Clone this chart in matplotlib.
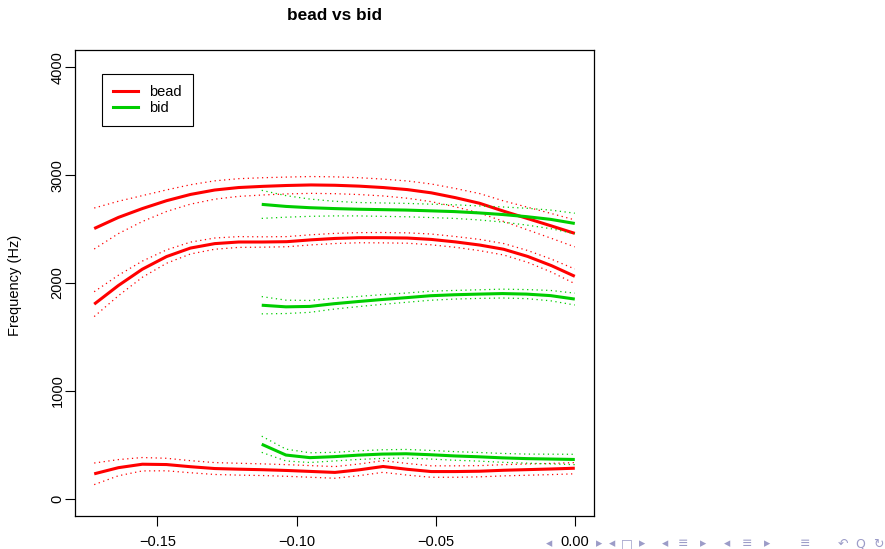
import matplotlib
matplotlib.use("Agg")
import matplotlib.pyplot as plt
from matplotlib.lines import Line2D

plt.rcParams['font.family'] = ['Liberation Sans', 'DejaVu Sans']

RED = '#FF0000'
GREEN = '#00CD00'

# time (s) relative to the vowel end, formant means (Hz) and band half-widths (Hz)
bead_time = [-0.1727, -0.1640, -0.1554, -0.1467, -0.1381, -0.1294, -0.1208,
             -0.1121, -0.1035, -0.0948, -0.0862, -0.0775, -0.0689, -0.0602,
             -0.0516, -0.0429, -0.0342, -0.0256, -0.0169, -0.0083, 0.0]
bead_f1 = [231, 288, 320, 317, 297, 280, 274, 269, 262, 253, 244,
           268, 299, 273, 252, 252, 255, 264, 270, 276, 283]
bead_f2 = [1804, 1977, 2128, 2245, 2324, 2365, 2380, 2380, 2383, 2400, 2413,
           2420, 2420, 2417, 2404, 2381, 2352, 2313, 2246, 2160, 2062]
bead_f3 = [2505, 2608, 2690, 2763, 2821, 2862, 2885, 2896, 2904, 2909, 2906,
           2898, 2885, 2866, 2836, 2791, 2739, 2666, 2597, 2528, 2460]
bead_f1_se = [100, 75, 62, 58, 56, 55, 55, 54, 54, 54, 54,
              54, 54, 54, 53, 53, 52, 52, 52, 52, 52]
bead_f2_se = [115, 95, 75, 62, 55, 52, 50, 48, 47, 47, 47,
              47, 48, 48, 50, 50, 52, 53, 55, 60, 68]
bead_f3_se = [190, 150, 120, 100, 90, 85, 82, 80, 78, 78, 78,
              78, 78, 80, 82, 85, 90, 95, 105, 115, 125]

bid_time = [-0.1125, -0.1038, -0.0952, -0.0865, -0.0779, -0.0692, -0.0606,
            -0.0519, -0.0433, -0.0346, -0.0260, -0.0173, -0.0087, 0.0]
bid_f1 = [505, 405, 381, 390, 404, 414, 417, 408, 397, 389, 379, 372, 368, 364]
bid_f2 = [1794, 1779, 1783, 1808, 1828, 1847, 1864, 1882, 1891, 1897, 1902,
          1897, 1883, 1851]
bid_f3 = [2729, 2710, 2698, 2690, 2684, 2680, 2676, 2669, 2662, 2650, 2635,
          2615, 2590, 2552]
bid_f1_se = [75, 55, 45, 40, 40, 40, 40, 40, 40, 40, 41, 42, 45, 48]
bid_f2_se = [80, 62, 55, 50, 47, 45, 43, 42, 40, 40, 41, 42, 48, 55]
bid_f3_se = [130, 100, 80, 68, 62, 62, 62, 62, 63, 65, 70, 78, 86, 95]

x_ticks = [-0.15, -0.10, -0.05, 0.00]
y_ticks = [0, 1000, 2000, 3000, 4000]

vowels = [
    ('bead', RED, bead_time, [(bead_f1, bead_f1_se), (bead_f2, bead_f2_se), (bead_f3, bead_f3_se)]),
    ('bid', GREEN, bid_time, [(bid_f1, bid_f1_se), (bid_f2, bid_f2_se), (bid_f3, bid_f3_se)]),
]

W, H = 885, 549
fig = plt.figure(figsize=(W / 100, H / 100), dpi=100)
ax = fig.add_axes([75 / W, 1 - 516 / H, (594 - 75) / W, (516 - 50) / H])

dots = (0, (1, 2.8))
for name, col, t, formants in vowels:
    for mean, se in formants:
        lo = [m - s for m, s in zip(mean, se)]
        hi = [m + s for m, s in zip(mean, se)]
        ax.plot(t, hi, color=col, lw=0.9, linestyle=dots)
        ax.plot(t, lo, color=col, lw=0.9, linestyle=dots)
        ax.plot(t, mean, color=col, lw=2.2, solid_capstyle='butt')

ax.set_xlim(-0.1796, 0.0069)
ax.set_ylim(-160, 4160)
ax.set_xticks(x_ticks)
ax.set_xticklabels(['\u22120.15', '\u22120.10', '\u22120.05', '0.00'])
ax.set_yticks(y_ticks)
ax.set_yticklabels([str(v) for v in y_ticks])
ax.tick_params(axis='both', direction='out', length=7, width=0.8,
               labelsize=10.5, color='black')
ax.tick_params(axis='x', pad=7)
ax.tick_params(axis='y', pad=0.5, labelrotation=90)
for lab in ax.get_yticklabels():
    lab.set_va('center')
for sp in ax.spines.values():
    sp.set_linewidth(0.9)
    sp.set_color('black')

fig.text(334.5 / W, 1 - 16 / H, 'bead vs bid', ha='center', va='center',
         fontsize=12.4, fontweight='bold')
fig.text(15 / W, 1 - 285 / H, 'Frequency (Hz)', rotation=90,
         ha='center', va='center', fontsize=10.5)

handles = [Line2D([], [], color=RED, lw=2.2), Line2D([], [], color=GREEN, lw=2.2)]
leg = fig.legend(handles, ['bead', 'bid'], loc='upper left',
                 bbox_to_anchor=(102 / W, 1 - 74 / H), bbox_transform=fig.transFigure,
                 borderaxespad=0, fancybox=False, edgecolor='black', framealpha=1,
                 fontsize=10.5, handlelength=1.75, handletextpad=0.75,
                 labelspacing=0.15, borderpad=0.75)
leg.get_frame().set_linewidth(0.8)

# beamer navigation symbols along the bottom edge
nav = [(549, '\u25c2'), (599, '\u25b8'),
       (612, '\u25c2'), (627, '\u25a1'), (642, '\u25b8'),
       (665, '\u25c2'), (683, '\u2261'), (703, '\u25b8'),
       (727, '\u25c2'), (747, '\u2261'), (767, '\u25b8'),
       (805, '\u2261'), (843, '\u21b6'), (860, 'Q'), (878, '\u21bb')]
for px, sym in nav:
    fig.text(px / W, 1 - 544 / H, sym, ha='center', va='center', fontsize=9,
             color='#9c9cc8', family=['DejaVu Sans'], zorder=0)

fig.savefig('out.png', dpi=100)
